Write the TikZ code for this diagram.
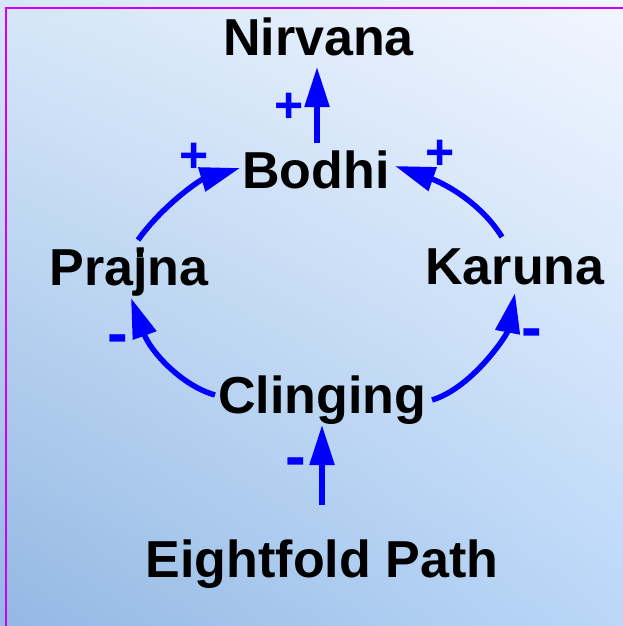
\documentclass[tikz,border=0pt]{standalone}
\usepackage{fontspec}
\setmainfont{Liberation Sans}
\usetikzlibrary{arrows.meta,shadings}
\definecolor{arrowblue}{RGB}{0,0,255}
\definecolor{framecol}{RGB}{204,0,255}
\definecolor{bgUL}{HTML}{D6E7F9}
\definecolor{bgUR}{HTML}{F2F6FE}
\definecolor{bgLL}{HTML}{93B8E3}
\definecolor{bgLR}{HTML}{BAD7F8}
\begin{document}
\begin{tikzpicture}[x=1pt,y=-1pt,
  word/.style={font=\fontsize{52}{60}\selectfont\bfseries, anchor=base, inner sep=0pt, text=black},
  plussign/.style={font=\fontsize{50}{50}\selectfont\bfseries, text=arrowblue, inner sep=0pt},
  minussign/.style={font=\fontsize{62}{62}\selectfont\bfseries, text=arrowblue, inner sep=0pt},
  link/.style={draw=arrowblue, line width=5.5pt, -{Triangle[length=40pt,width=24pt]}},
]
\useasboundingbox (0,0) rectangle (623,626);
\shade[upper left=bgUL, upper right=bgUR, lower left=bgLL, lower right=bgLR] (0,0) rectangle (623,626);
\draw[framecol, line width=2pt] (6,626) -- (6,8) -- (623,8);

% concepts
\node[word] (nirvana)   at (318.5,56)  {Nirvana};
\node[word] (bodhi)     at (316,188)   {Bodhi};
\node[word] (prajna)    at (129,285)   {Prajna};
\node[word] (karuna)    at (515,284)   {Karuna};
\node[word] (clinging)  at (322,413)   {Clinging};
\node[word] (eightfold) at (322,577)   {Eightfold Path};

% connector end points
\coordinate (bodhiUp)     at (317,143);
\coordinate (nirvanaIn)   at (317,67);
\coordinate (prajnaOut)   at (138,240);
\coordinate (bodhiInL)    at (240,168);
\coordinate (karunaOut)   at (502,237);
\coordinate (bodhiInR)    at (395,166);
\coordinate (clingOutL)   at (215,395);
\coordinate (prajnaIn)    at (131,298);
\coordinate (clingOutR)   at (432,400);
\coordinate (karunaIn)    at (515,293);
\coordinate (pathOut)     at (322,505);
\coordinate (clingIn)     at (322,425);

% connectors
\draw[link] (bodhiUp) -- (nirvanaIn);
\draw[link] (prajnaOut) .. controls (163,205) and (200,180) .. (bodhiInL);
\draw[link] (karunaOut) .. controls (477,197) and (435,180) .. (bodhiInR);
\draw[link] (clingOutL) .. controls (180,385) and (150,350) .. (prajnaIn);
\draw[link] (clingOutR) .. controls (472,388) and (507,335) .. (karunaIn);
\draw[link] (pathOut) -- (clingIn);

% polarity signs
\node[plussign]  (s1) at (289,108) {+};
\node[plussign]  (s2) at (194,158) {+};
\node[plussign]  (s3) at (440,155) {+};
\node[minussign] (s4) at (118,345) {-};
\node[minussign] (s5) at (532,339) {-};
\node[minussign] (s6) at (296,468) {-};

% small marker
\fill[black] (137,251) rectangle (143,257);
\end{tikzpicture}
\end{document}
